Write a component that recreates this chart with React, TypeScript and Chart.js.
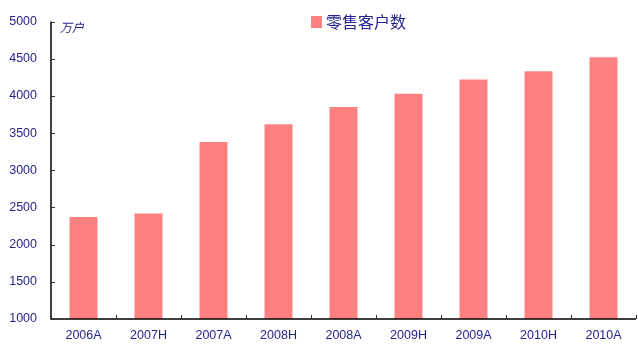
import React, { useEffect, useRef } from "react";
import { Chart, registerables } from "chart.js";

Chart.register(...registerables);

const categories = ["2006A", "2007H", "2007A", "2008H", "2008A", "2009H", "2009A", "2010H", "2010A"];
const retailCustomers = [2370, 2420, 3380, 3620, 3850, 4030, 4220, 4330, 4520];
const seriesName = "零售客户数";
const unitLabel = "万户";
const yMin = 1000;
const yMax = 5000;
const yStep = 500;

const BAR_COLOR = "#FF8080";
const TEXT_COLOR = "#24248E";

const decorPlugin = {
  id: "decor",
  afterDraw(chart: any) {
    const { ctx, chartArea } = chart;
    const { left, right, top, bottom } = chartArea;
    const x = chart.scales.x;
    const y = chart.scales.y;
    ctx.save();
    ctx.strokeStyle = "#000000";
    ctx.lineWidth = 1.5;
    ctx.beginPath();
    ctx.moveTo(left, top);
    ctx.lineTo(left, bottom);
    ctx.lineTo(right, bottom);
    ctx.stroke();
    ctx.lineWidth = 1;
    ctx.strokeStyle = "#333333";
    y.ticks.forEach((t: any) => {
      const py = Math.round(y.getPixelForValue(t.value)) + 0.5;
      ctx.beginPath();
      ctx.moveTo(left, py);
      ctx.lineTo(left + 4, py);
      ctx.stroke();
    });
    const n = categories.length;
    for (let i = 1; i <= n; i++) {
      const px = Math.round(x.getPixelForValue(i - 0.5)) + 0.5;
      ctx.beginPath();
      ctx.moveTo(px, bottom);
      ctx.lineTo(px, bottom - 4);
      ctx.stroke();
    }
    ctx.fillStyle = TEXT_COLOR;
    ctx.font = "italic 12px 'Noto Sans CJK SC'";
    ctx.textBaseline = "middle";
    ctx.textAlign = "left";
    ctx.fillText(unitLabel, 60, 27);
    ctx.fillStyle = BAR_COLOR;
    ctx.fillRect(311, 16, 11, 12);
    ctx.fillStyle = TEXT_COLOR;
    ctx.font = "16px 'Noto Sans CJK SC'";
    ctx.fillText(seriesName, 326, 22);
    ctx.restore();
  },
};

export default function App() {
  const ref = useRef<HTMLCanvasElement | null>(null);
  useEffect(() => {
    document.body.style.margin = "0";
    const canvas = ref.current;
    if (!canvas) return;
    const chart = new Chart(canvas, {
      type: "bar",
      data: {
        labels: categories,
        datasets: [
          {
            label: seriesName,
            data: retailCustomers,
            backgroundColor: BAR_COLOR,
            borderWidth: 0,
            barPercentage: 0.43,
            categoryPercentage: 1,
          },
        ],
      },
      options: {
        responsive: false,
        animation: false,
        layout: { padding: { top: 21, right: 2, left: 0, bottom: 0 } },
        plugins: { legend: { display: false }, tooltip: { enabled: false } },
        scales: {
          x: {
            grid: { display: false, drawTicks: false },
            border: { display: false },
            ticks: {
              color: TEXT_COLOR,
              font: { family: "'Liberation Sans', Arial, sans-serif", size: 12.5 },
              padding: 9,
              maxRotation: 0,
            },
            afterFit(scale: any) {
              scale.height = 30;
            },
          },
          y: {
            min: yMin,
            max: yMax,
            grid: { display: false, drawTicks: false },
            border: { display: false },
            ticks: {
              stepSize: yStep,
              color: TEXT_COLOR,
              font: { family: "'Liberation Sans', Arial, sans-serif", size: 12.5 },
              padding: 14,
              callback: (v: any) => String(v),
            },
            afterFit(scale: any) {
              scale.width = 51;
            },
          },
        },
      },
      plugins: [decorPlugin],
    });
    return () => chart.destroy();
  }, []);
  return (
    <div style={{ position: "relative", width: 638, height: 349 }}>
      <canvas ref={ref} width={638} height={349} style={{ display: "block" }} />
    </div>
  );
}
